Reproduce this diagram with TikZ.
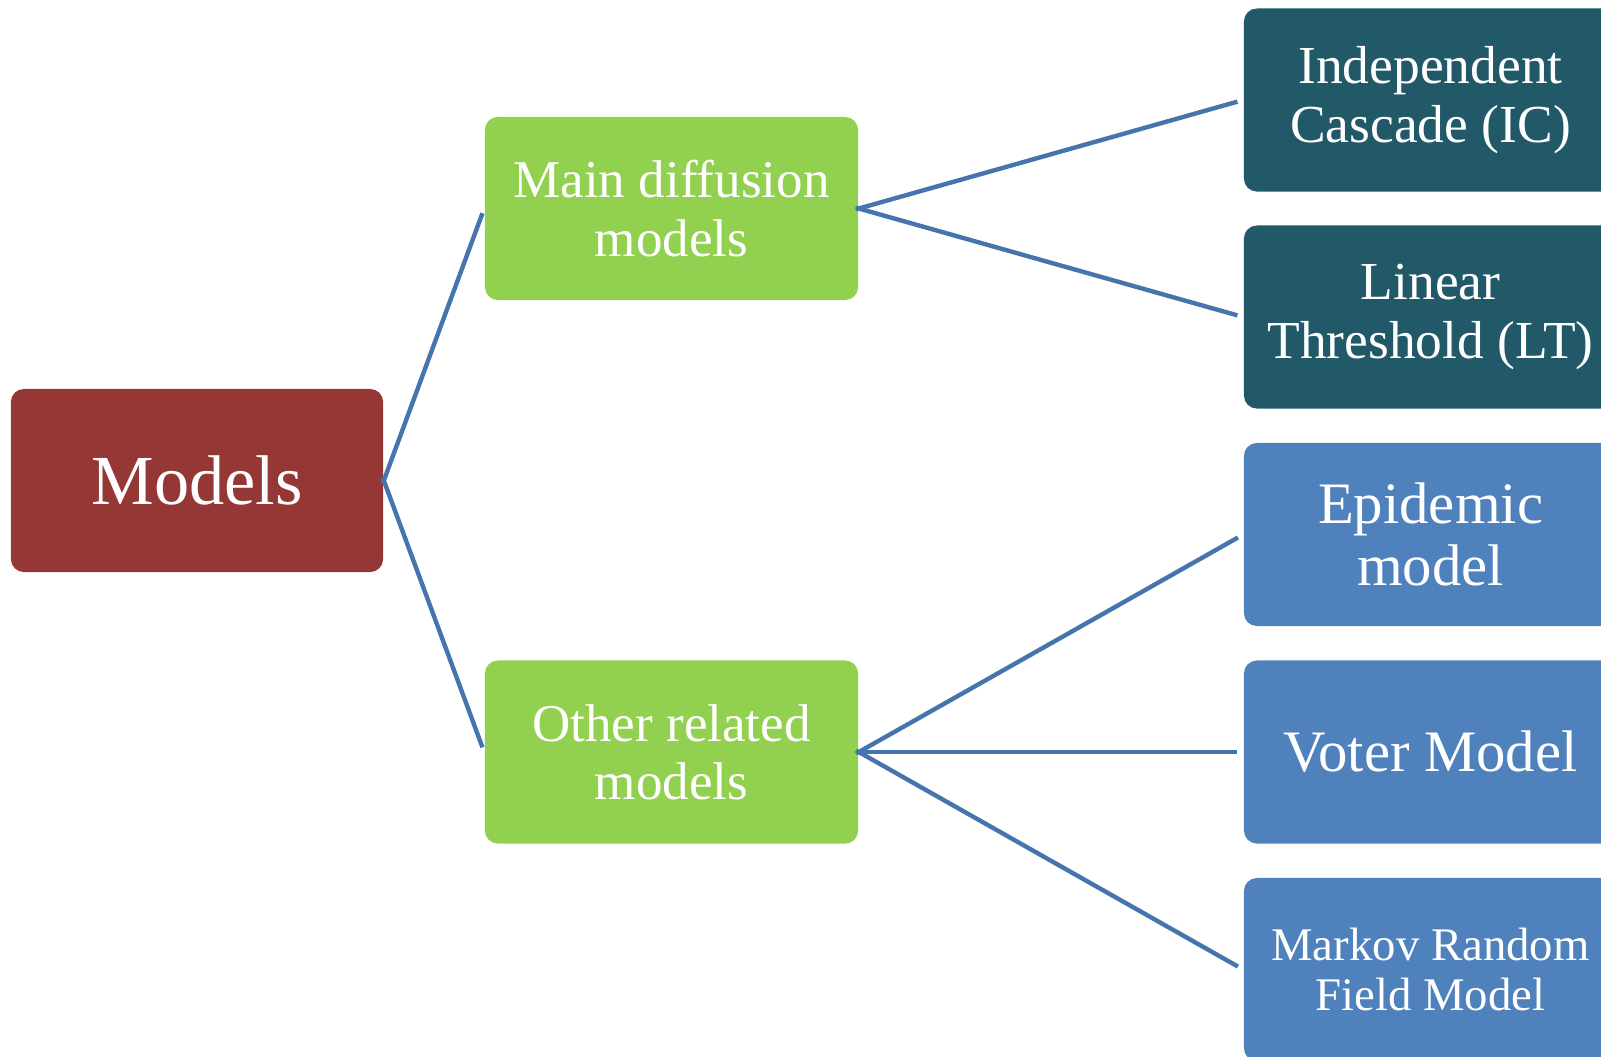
\documentclass[tikz,border=0pt]{standalone}
\usepackage{fontspec}
\setmainfont{Liberation Serif}
\definecolor{rootred}{RGB}{149,55,53}
\definecolor{midgreen}{RGB}{146,208,80}
\definecolor{darkteal}{RGB}{33,89,104}
\definecolor{leafblue}{RGB}{79,129,189}
\definecolor{linkblue}{RGB}{70,116,172}
\tikzset{
  box/.style={rounded corners=0.13cm, minimum width=3.73cm, minimum height=1.83cm,
    inner sep=0pt, align=center, text=white},
  rootbox/.style={box, fill=rootred, minimum width=3.72cm},
  midbox/.style={box, fill=midgreen},
  tealbox/.style={box, fill=darkteal},
  bluebox/.style={box, fill=leafblue},
  link/.style={draw=linkblue, line width=0.044cm, line join=miter},
}
\newcommand{\fsz}[2]{\fontsize{#1}{#2}\selectfont}
\begin{document}
\begin{tikzpicture}[x=0.01cm, y=-0.01cm]
  \useasboundingbox (0,0) rectangle (1601,1056);
  \clip (0,0) rectangle (1601,1056);

  % root
  \node[rootbox, font=\fsz{20}{24}] (models) at (197,480.5) {Models};

  % second level
  \node[midbox, font=\fsz{15.1}{16.6}] (main) at (671.5,208.5) {Main diffusion\\models};
  \node[midbox, font=\fsz{15.1}{16.6}] (other) at (671.5,752) {Other related\\models};

  % leaves
  \node[tealbox, font=\fsz{15.2}{16.9}] (ic) at (1430.5,100) {Independent\\Cascade (IC)};
  \node[tealbox, font=\fsz{15.2}{16.9}] (lt) at (1430.5,317) {Linear\\Threshold (LT)};
  \node[bluebox, font=\fsz{16.7}{17.8}] (epi) at (1430.5,534.5) {Epidemic\\model};
  \node[bluebox, font=\fsz{16.7}{17.8}] (voter) at (1430.5,752) {Voter Model};
  \node[bluebox, font=\fsz{13.3}{14.4}] (mrf) at (1430.5,969.5) {Markov Random\\Field Model};

  % connectors
  \draw[link, shorten <=-0.03cm, shorten >=0.05cm] (models.east) -- (main.west);
  \draw[link, shorten <=-0.03cm, shorten >=0.05cm] (models.east) -- (other.west);
  \draw[link, shorten <=-0.03cm, shorten >=0.06cm] (main.east) -- (ic.west);
  \draw[link, shorten <=-0.03cm, shorten >=0.06cm] (main.east) -- (lt.west);
  \draw[link, shorten <=-0.03cm, shorten >=0.06cm] (other.east) -- (epi.west);
  \draw[link, shorten <=-0.03cm, shorten >=0.06cm] (other.east) -- (voter.west);
  \draw[link, shorten <=-0.03cm, shorten >=0.06cm] (other.east) -- (mrf.west);
\end{tikzpicture}
\end{document}
